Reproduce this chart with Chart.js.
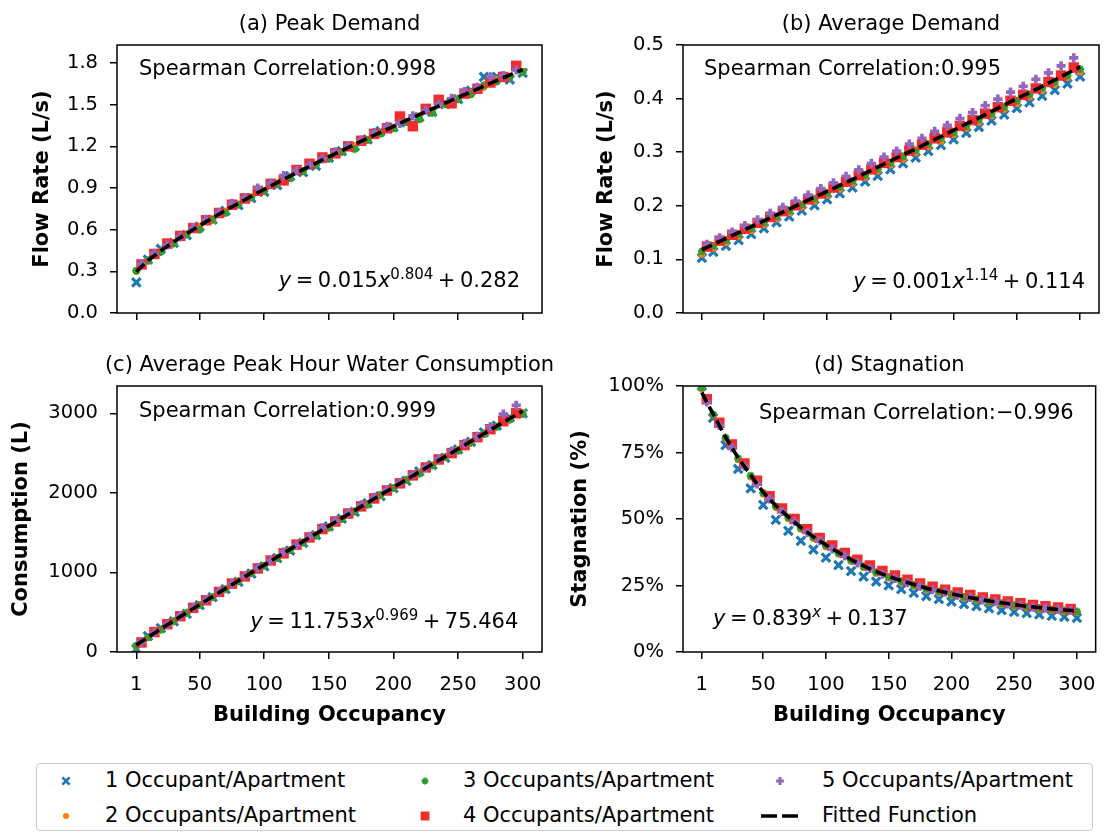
<!DOCTYPE html>
<html>
<head>
<meta charset="utf-8">
<script src="https://cdn.jsdelivr.net/npm/chart.js@4.4.1/dist/chart.umd.min.js"></script>
<style>
  html, body { margin: 0; padding: 0; background: #fff; overflow: hidden; }
  body { width: 1110px; height: 833px; position: relative; font-family: "DejaVu Sans", sans-serif; }
  canvas.panel { position: absolute; }
  #legendBox { position: absolute; left: 36px; top: 763px; width: 1057px; height: 68px;
               box-sizing: border-box; border: 1.4px solid #cccccc; border-radius: 4px; }
  .legText { position: absolute; height: 24px; line-height: 24px; font-size: 21px; white-space: nowrap; color: #000; }
  .legIcon { position: absolute; }
</style>
</head>
<body>
<canvas id="peak" class="panel" width="560" height="340" style="left:0px;top:0px"></canvas>
<canvas id="average" class="panel" width="550" height="340" style="left:560px;top:0px"></canvas>
<canvas id="consumption" class="panel" width="560" height="400" style="left:0px;top:340px"></canvas>
<canvas id="stagnation" class="panel" width="550" height="400" style="left:560px;top:340px"></canvas>
<div id="legendBox"></div>

<script>
// building occupancy (x) for the series sampled on each grid
const occupancyA = [1, 10, 20, 30, 40, 50, 60, 70, 80, 90, 100, 110, 120, 130, 140, 150, 160, 170, 180, 190, 200, 210, 220, 230, 240, 250, 260, 270, 280, 290, 300];
const occupancyB = [5, 15, 25, 35, 45, 55, 65, 75, 85, 95, 105, 115, 125, 135, 145, 155, 165, 175, 185, 195, 205, 215, 225, 235, 245, 255, 265, 275, 285, 295];

// (a) peak demand, L/s
const peakOcc1 = [0.220, 0.385, 0.462, 0.505, 0.560, 0.622, 0.672, 0.735, 0.776, 0.828, 0.872, 0.920, 0.985, 1.015, 1.060, 1.118, 1.165, 1.200, 1.250, 1.310, 1.338, 1.372, 1.410, 1.448, 1.505, 1.540, 1.602, 1.700, 1.700, 1.680, 1.730];
const peakOcc2 = [0.300, 0.372, 0.445, 0.505, 0.565, 0.625, 0.665, 0.730, 0.785, 0.835, 0.880, 0.935, 0.975, 1.025, 1.070, 1.120, 1.160, 1.205, 1.248, 1.295, 1.335, 1.380, 1.420, 1.462, 1.500, 1.548, 1.585, 1.625, 1.680, 1.700, 1.740];
const peakOcc3 = [0.305, 0.380, 0.440, 0.500, 0.568, 0.600, 0.675, 0.720, 0.780, 0.832, 0.878, 0.930, 0.970, 1.020, 1.065, 1.110, 1.160, 1.180, 1.245, 1.290, 1.330, 1.375, 1.395, 1.440, 1.505, 1.540, 1.575, 1.640, 1.668, 1.700, 1.735];
const peakOcc4 = [0.350, 0.425, 0.500, 0.555, 0.612, 0.668, 0.720, 0.780, 0.825, 0.880, 0.930, 0.955, 1.030, 1.075, 1.120, 1.150, 1.200, 1.240, 1.290, 1.330, 1.415, 1.345, 1.470, 1.535, 1.510, 1.580, 1.615, 1.660, 1.700, 1.780];
const peakOcc5 = [0.355, 0.430, 0.490, 0.550, 0.615, 0.675, 0.725, 0.790, 0.830, 0.900, 0.935, 0.990, 1.025, 1.065, 1.110, 1.160, 1.205, 1.245, 1.300, 1.345, 1.365, 1.420, 1.460, 1.505, 1.545, 1.595, 1.625, 1.700, 1.710, 1.750];
const peakFit  = [0.297, 0.378, 0.449, 0.513, 0.573, 0.630, 0.685, 0.739, 0.790, 0.841, 0.890, 0.939, 0.986, 1.033, 1.079, 1.125, 1.170, 1.214, 1.258, 1.301, 1.344, 1.387, 1.429, 1.470, 1.512, 1.553, 1.593, 1.634, 1.674, 1.714, 1.753];

// (b) average demand, L/s
const avgOcc1 = [0.103, 0.114, 0.125, 0.136, 0.147, 0.158, 0.169, 0.180, 0.191, 0.201, 0.212, 0.223, 0.234, 0.245, 0.256, 0.268, 0.279, 0.290, 0.302, 0.313, 0.324, 0.336, 0.347, 0.359, 0.370, 0.382, 0.393, 0.405, 0.416, 0.428, 0.441];
const avgOcc2 = [0.110, 0.121, 0.132, 0.143, 0.154, 0.165, 0.176, 0.187, 0.198, 0.209, 0.220, 0.231, 0.242, 0.253, 0.265, 0.276, 0.287, 0.299, 0.310, 0.321, 0.333, 0.345, 0.356, 0.368, 0.380, 0.391, 0.403, 0.415, 0.427, 0.439, 0.450];
const avgOcc3 = [0.115, 0.125, 0.136, 0.147, 0.158, 0.169, 0.180, 0.191, 0.202, 0.213, 0.224, 0.235, 0.246, 0.257, 0.269, 0.280, 0.292, 0.303, 0.315, 0.326, 0.337, 0.349, 0.361, 0.372, 0.384, 0.396, 0.408, 0.420, 0.431, 0.443, 0.455];
const avgOcc4 = [0.124, 0.135, 0.146, 0.157, 0.168, 0.179, 0.190, 0.201, 0.212, 0.223, 0.234, 0.245, 0.257, 0.268, 0.280, 0.291, 0.303, 0.314, 0.326, 0.337, 0.349, 0.360, 0.372, 0.384, 0.396, 0.407, 0.419, 0.431, 0.443, 0.458];
const avgOcc5 = [0.128, 0.140, 0.151, 0.163, 0.174, 0.186, 0.197, 0.209, 0.220, 0.232, 0.243, 0.255, 0.267, 0.279, 0.291, 0.302, 0.315, 0.326, 0.339, 0.350, 0.363, 0.374, 0.387, 0.399, 0.412, 0.423, 0.436, 0.448, 0.461, 0.476];
const avgFit  = [0.118, 0.128, 0.139, 0.150, 0.161, 0.172, 0.183, 0.194, 0.205, 0.216, 0.227, 0.238, 0.249, 0.261, 0.272, 0.284, 0.295, 0.306, 0.318, 0.329, 0.341, 0.353, 0.364, 0.376, 0.388, 0.400, 0.411, 0.423, 0.435, 0.447, 0.459];

// (c) average peak hour water consumption, L
const consOcc1 = [40, 200, 300, 385, 480, 590, 690, 790, 880, 985, 1075, 1180, 1275, 1370, 1470, 1580, 1675, 1760, 1870, 1960, 2060, 2150, 2270, 2350, 2440, 2545, 2640, 2760, 2845, 2950, 3000];
const consOcc2 = [70, 180, 285, 390, 490, 595, 690, 795, 890, 990, 1090, 1185, 1285, 1380, 1480, 1575, 1675, 1770, 1865, 1965, 2060, 2160, 2250, 2350, 2445, 2540, 2640, 2735, 2830, 2925, 3010];
const consOcc3 = [80, 185, 280, 388, 492, 590, 688, 790, 888, 990, 1085, 1180, 1282, 1375, 1460, 1560, 1670, 1765, 1850, 1975, 2060, 2165, 2240, 2345, 2450, 2530, 2630, 2740, 2830, 2920, 2990];
const consOcc4 = [120, 250, 350, 450, 555, 650, 755, 860, 950, 1050, 1150, 1240, 1350, 1440, 1545, 1640, 1740, 1830, 1930, 2030, 2120, 2220, 2320, 2420, 2500, 2600, 2700, 2800, 2900, 3000];
const consOcc5 = [125, 245, 345, 455, 560, 655, 760, 860, 955, 1060, 1150, 1255, 1345, 1455, 1560, 1650, 1745, 1850, 1945, 2040, 2130, 2230, 2320, 2425, 2525, 2620, 2710, 2830, 2990, 3100];
const consFit  = [87, 185, 290, 393, 495, 596, 696, 797, 896, 996, 1094, 1193, 1291, 1389, 1487, 1585, 1682, 1779, 1876, 1973, 2070, 2167, 2263, 2359, 2455, 2552, 2648, 2743, 2839, 2934, 3028];

// (d) stagnation, fraction
const stagOcc1 = [1.000, 0.880, 0.778, 0.688, 0.615, 0.553, 0.497, 0.455, 0.418, 0.385, 0.355, 0.327, 0.304, 0.283, 0.265, 0.250, 0.236, 0.222, 0.210, 0.199, 0.189, 0.180, 0.172, 0.164, 0.157, 0.151, 0.146, 0.141, 0.136, 0.132, 0.128];
const stagOcc2 = [0.990, 0.892, 0.803, 0.724, 0.658, 0.594, 0.544, 0.502, 0.462, 0.427, 0.396, 0.368, 0.341, 0.318, 0.296, 0.278, 0.262, 0.248, 0.234, 0.223, 0.213, 0.203, 0.194, 0.186, 0.179, 0.172, 0.166, 0.161, 0.156, 0.152, 0.149];
const stagOcc3 = [0.995, 0.893, 0.806, 0.728, 0.663, 0.598, 0.548, 0.506, 0.466, 0.431, 0.400, 0.372, 0.345, 0.322, 0.300, 0.282, 0.266, 0.252, 0.238, 0.227, 0.217, 0.207, 0.198, 0.190, 0.183, 0.176, 0.170, 0.165, 0.160, 0.156, 0.152];
const stagOcc4 = [0.950, 0.862, 0.780, 0.709, 0.644, 0.586, 0.540, 0.500, 0.462, 0.429, 0.400, 0.372, 0.347, 0.325, 0.305, 0.288, 0.272, 0.258, 0.245, 0.234, 0.224, 0.214, 0.205, 0.197, 0.190, 0.183, 0.177, 0.172, 0.167, 0.162];
const stagOcc5 = [0.940, 0.852, 0.768, 0.699, 0.632, 0.576, 0.528, 0.490, 0.450, 0.419, 0.388, 0.361, 0.335, 0.314, 0.293, 0.277, 0.261, 0.248, 0.234, 0.225, 0.214, 0.205, 0.196, 0.189, 0.181, 0.176, 0.169, 0.165, 0.160, 0.157];
const stagFit  = [0.976, 0.895, 0.808, 0.730, 0.665, 0.600, 0.550, 0.508, 0.468, 0.433, 0.402, 0.374, 0.347, 0.324, 0.302, 0.284, 0.268, 0.254, 0.240, 0.229, 0.219, 0.209, 0.200, 0.192, 0.185, 0.178, 0.172, 0.167, 0.162, 0.158, 0.155];

// tick labels
const xTicks = [1, 50, 100, 150, 200, 250, 300];
const peakTicks = [0, 0.3, 0.6, 0.9, 1.2, 1.5, 1.8];
const avgTicks = [0, 0.1, 0.2, 0.3, 0.4, 0.5];
const consTicks = [0, 1000, 2000, 3000];
const stagTicks = [0, 0.25, 0.5, 0.75, 1];

const seriesLabels = ['1 Occupant/Apartment', '2 Occupants/Apartment', '3 Occupants/Apartment', '4 Occupants/Apartment', '5 Occupants/Apartment'];
const fitLabel = 'Fitted Function';

// marker look of each series (matplotlib-ish)
const markers = [
  { pointStyle: 'crossRot', radius: 6,   borderWidth: 3.2, color: '#1f77b4', order: 5 },
  { pointStyle: 'circle',   radius: 3.6, borderWidth: 0,   color: '#ff7f0e', order: 4 },
  { pointStyle: 'star',     radius: 4,   borderWidth: 2.2, color: '#2ca02c', order: 3 },
  { pointStyle: 'rect',     radius: 7.4, borderWidth: 0,   color: '#f22b2b', order: 2 },
  { pointStyle: 'cross',    radius: 4.6, borderWidth: 3.6, color: '#9467bd', order: 1 }
];
const seriesX = [occupancyA, occupancyA, occupancyA, occupancyB, occupancyB];

Chart.defaults.font.family = '"DejaVu Sans"';
Chart.defaults.color = '#000';

function pts(xs, ys) {
  return xs.map((x, i) => ({ x: x, y: ys[i] }));
}

function buildDatasets(ysList, fitYs) {
  const ds = markers.map((m, i) => ({
    label: seriesLabels[i],
    data: pts(seriesX[i], ysList[i]),
    showLine: false,
    pointStyle: m.pointStyle,
    pointRadius: m.radius,
    pointBorderWidth: m.borderWidth,
    pointBorderColor: m.color,
    pointBackgroundColor: m.color,
    borderColor: m.color,
    backgroundColor: m.color,
    order: m.order
  }));
  ds.push({
    label: fitLabel,
    data: pts(occupancyA, fitYs),
    showLine: true,
    pointRadius: 0,
    borderColor: '#000',
    borderWidth: 3.6,
    borderDash: [11, 5],
    fill: false,
    order: 0
  });
  return ds;
}

// writes an equation like y = a x^b + c, italic letters and a raised exponent
function drawEquation(ctx, parts, x, y, align) {
  const pieces = parts.map(p => {
    const font = (p.it ? 'italic ' : '') + (p.sup ? '15px' : '21px') + ' "DejaVu Sans"';
    ctx.font = font;
    const gap = p.gap || 0;
    return { t: p.t, sup: p.sup, font: font, gap: gap, w: ctx.measureText(p.t).width + gap * 2 };
  });
  const total = pieces.reduce((s, p) => s + p.w, 0);
  let cx = align === 'right' ? x - total : x;
  ctx.textAlign = 'left';
  pieces.forEach(p => {
    ctx.font = p.font;
    ctx.fillText(p.t, cx + p.gap, p.sup ? y - 8 : y);
    cx += p.w;
  });
}

const panelDecor = {
  id: 'panelDecor',
  afterDraw(chart, args, opts) {
    const { ctx, chartArea: a } = chart;
    ctx.save();
    ctx.strokeStyle = '#000';
    ctx.lineWidth = 1.5;
    ctx.strokeRect(a.left, a.top, a.right - a.left, a.bottom - a.top);

    ctx.fillStyle = '#000';
    ctx.textBaseline = 'alphabetic';
    ctx.font = '21px "DejaVu Sans"';
    ctx.textAlign = 'center';
    ctx.fillText(opts.title, (a.left + a.right) / 2, a.top - 15.5);

    ctx.textAlign = 'left';
    ctx.fillText(opts.corr, a.left + opts.corrAt[0], a.top + opts.corrAt[1]);

    const ex = opts.eqAlign === 'right' ? a.right + opts.eqAt[0] : a.left + opts.eqAt[0];
    drawEquation(ctx, opts.eq, ex, a.bottom + opts.eqAt[1], opts.eqAlign);
    ctx.restore();
  }
};

function makePanel(id, cfg) {
  const tickFont = { size: 19.5, lineHeight: 1.2 };
  const labelFont = { size: 21, weight: 'bold', lineHeight: 1.2 };
  return new Chart(document.getElementById(id), {
    type: 'scatter',
    data: { datasets: buildDatasets(cfg.series, cfg.fit) },
    plugins: [panelDecor],
    options: {
      responsive: false,
      animation: false,
      devicePixelRatio: 1,
      events: [],
      layout: { padding: { left: 0, top: cfg.topPad, right: cfg.rightPad, bottom: 0 } },
      scales: {
        x: {
          type: 'linear',
          min: -13.95,
          max: 314.95,
          afterBuildTicks: sc => { sc.ticks = xTicks.map(v => ({ value: v })); },
          afterFit: sc => { sc.height = cfg.xHeight; },
          ticks: { display: cfg.bottomRow, autoSkip: false, maxRotation: 0, padding: 14, color: '#000', font: tickFont,
                   callback: v => String(v) },
          grid: { drawOnChartArea: false, drawTicks: true, tickLength: 7, color: '#000', lineWidth: 1.5 },
          border: { display: false },
          title: { display: cfg.bottomRow, text: 'Building Occupancy', color: '#000', font: labelFont,
                   padding: { top: 0, bottom: 12 } }
        },
        y: {
          type: 'linear',
          min: cfg.yMin,
          max: cfg.yMax,
          afterBuildTicks: sc => { sc.ticks = cfg.yTicks.map(v => ({ value: v })); },
          afterFit: sc => { sc.width = cfg.yWidth; },
          ticks: { autoSkip: false, padding: 12, color: '#000', font: tickFont, callback: cfg.yFormat },
          grid: { drawOnChartArea: false, drawTicks: true, tickLength: 7, color: '#000', lineWidth: 1.5 },
          border: { display: false },
          title: { display: true, text: cfg.yTitle, color: '#000', font: labelFont,
                   padding: { top: cfg.yTitlePad, bottom: 0 } }
        }
      },
      plugins: {
        legend: { display: false },
        tooltip: { enabled: false },
        panelDecor: cfg.decor
      }
    }
  });
}

makePanel('peak', {
  series: [peakOcc1, peakOcc2, peakOcc3, peakOcc4, peakOcc5], fit: peakFit,
  yMin: 0, yMax: 1.93, yTicks: peakTicks, yFormat: v => v.toFixed(1), yTitle: 'Flow Rate (L/s)',
  yWidth: 117, yTitlePad: 30, rightPad: 18, topPad: 45, xHeight: 27, bottomRow: false,
  decor: {
    title: '(a) Peak Demand', corr: 'Spearman Correlation:0.998', corrAt: [22, 30],
    eq: [{ t: 'y', it: true }, { t: '=', gap: 4.5 }, { t: '0.015' }, { t: 'x', it: true }, { t: '0.804', sup: true }, { t: '+', gap: 4.5 }, { t: '0.282' }],
    eqAlign: 'right', eqAt: [-22, -26]
  }
});

makePanel('average', {
  series: [avgOcc1, avgOcc2, avgOcc3, avgOcc4, avgOcc5], fit: avgFit,
  yMin: 0, yMax: 0.5, yTicks: avgTicks, yFormat: v => v.toFixed(1), yTitle: 'Flow Rate (L/s)',
  yWidth: 123, yTitlePad: 34.4, rightPad: 11, topPad: 45, xHeight: 27, bottomRow: false,
  decor: {
    title: '(b) Average Demand', corr: 'Spearman Correlation:0.995', corrAt: [21, 30],
    eq: [{ t: 'y', it: true }, { t: '=', gap: 4.5 }, { t: '0.001' }, { t: 'x', it: true }, { t: '1.14', sup: true }, { t: '+', gap: 4.5 }, { t: '0.114' }],
    eqAlign: 'right', eqAt: [-14, -24.7]
  }
});

makePanel('consumption', {
  series: [consOcc1, consOcc2, consOcc3, consOcc4, consOcc5], fit: consFit,
  yMin: 0, yMax: 3343, yTicks: consTicks, yFormat: v => String(v), yTitle: 'Consumption (L)',
  yWidth: 117, yTitlePad: 9.4, rightPad: 18, topPad: 46, xHeight: 88, bottomRow: true,
  decor: {
    title: '(c) Average Peak Hour Water Consumption', corr: 'Spearman Correlation:0.999', corrAt: [22, 30.7],
    eq: [{ t: 'y', it: true }, { t: '=', gap: 4.5 }, { t: '11.753' }, { t: 'x', it: true }, { t: '0.969', sup: true }, { t: '+', gap: 4.5 }, { t: '75.464' }],
    eqAlign: 'right', eqAt: [-23.7, -23.7]
  }
});

makePanel('stagnation', {
  series: [stagOcc1, stagOcc2, stagOcc3, stagOcc4, stagOcc5], fit: stagFit,
  yMin: 0, yMax: 1, yTicks: stagTicks, yFormat: v => Math.round(v * 100) + '%', yTitle: 'Stagnation (%)',
  yWidth: 123, yTitlePad: 8.4, rightPad: 11, topPad: 46, xHeight: 88, bottomRow: true,
  decor: {
    title: '(d) Stagnation', corr: 'Spearman Correlation:\u22120.996', corrAt: [76, 33.3],
    eq: [{ t: 'y', it: true }, { t: '=', gap: 4.5 }, { t: '0.839' }, { t: 'x', it: true, sup: true }, { t: '+', gap: 4.5 }, { t: '0.137' }],
    eqAlign: 'left', eqAt: [30, -27]
  }
});

// shared legend below the panels: three columns, two rows
function drawMarker(ctx, m, x, y, scale) {
  ctx.fillStyle = m.color;
  ctx.strokeStyle = m.color;
  ctx.lineWidth = m.borderWidth * scale;
  const r = m.radius * scale;
  ctx.beginPath();
  if (m.pointStyle === 'circle') {
    ctx.arc(x, y, r, 0, Math.PI * 2);
    ctx.fill();
  } else if (m.pointStyle === 'rect') {
    const h = r * Math.SQRT1_2;
    ctx.fillRect(x - h, y - h, 2 * h, 2 * h);
  } else {
    const d = r * Math.SQRT1_2;
    if (m.pointStyle !== 'cross') {
      ctx.moveTo(x - d, y - d); ctx.lineTo(x + d, y + d);
      ctx.moveTo(x - d, y + d); ctx.lineTo(x + d, y - d);
    }
    if (m.pointStyle !== 'crossRot') {
      ctx.moveTo(x, y - r); ctx.lineTo(x, y + r);
      ctx.moveTo(x - r, y); ctx.lineTo(x + r, y);
    }
    ctx.stroke();
  }
}

const legendCols = [{ icon: 66, text: 105 }, { icon: 425, text: 463 }, { icon: 780, text: 822 }];
const legendRows = [781, 816];

function addLegendItem(col, row, label, paint) {
  const cx = legendCols[col].icon, cy = legendRows[row];
  const cv = document.createElement('canvas');
  cv.width = 50; cv.height = 30;
  cv.className = 'legIcon';
  cv.style.left = (cx - 25) + 'px';
  cv.style.top = (cy - 15) + 'px';
  document.body.appendChild(cv);
  paint(cv.getContext('2d'), 25, 15);
  const t = document.createElement('div');
  t.className = 'legText';
  t.style.left = legendCols[col].text + 'px';
  t.style.top = (cy - 13) + 'px';
  t.textContent = label;
  document.body.appendChild(t);
}

markers.forEach((m, i) => {
  addLegendItem(Math.floor(i / 2), i % 2, seriesLabels[i], (ctx, x, y) => drawMarker(ctx, m, x, y, 0.85));
});
addLegendItem(2, 1, fitLabel, (ctx, x, y) => {
  ctx.strokeStyle = '#000';
  ctx.lineWidth = 3.6;
  ctx.setLineDash([16, 5]);
  ctx.beginPath();
  ctx.moveTo(x - 19, y);
  ctx.lineTo(x + 19, y);
  ctx.stroke();
});
</script>
</body>
</html>
